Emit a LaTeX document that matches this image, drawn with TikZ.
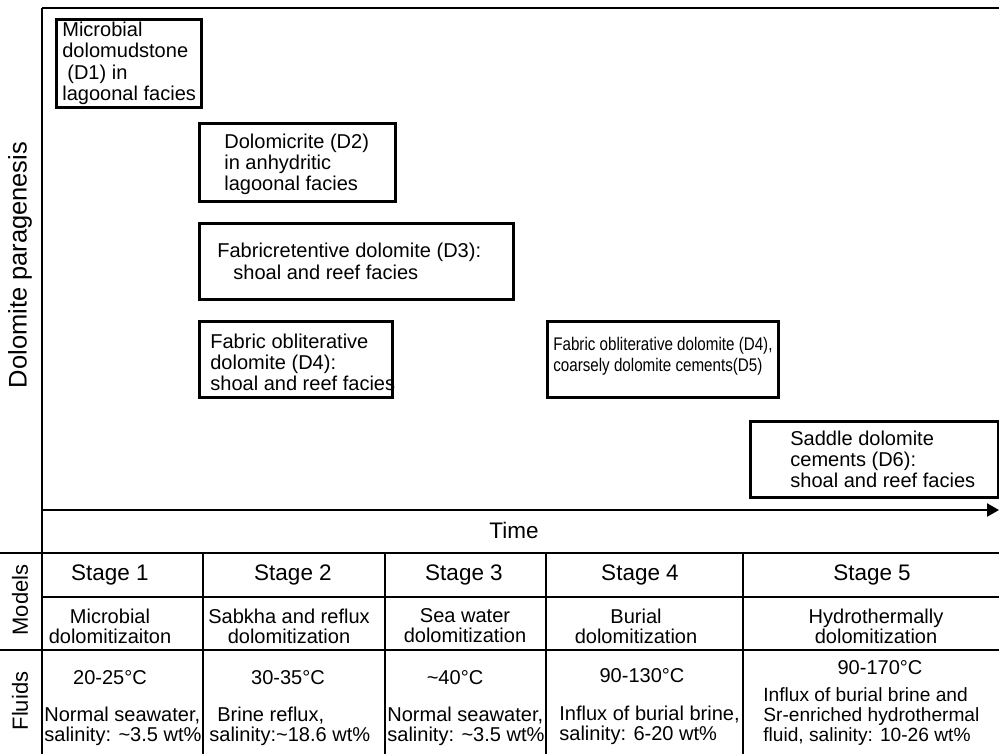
\documentclass[tikz,border=0pt]{standalone}
\usepackage{fontspec}
\setmainfont{Liberation Sans}
\newfontfamily\narrowsans[FakeStretch=0.83]{Liberation Sans}
\usetikzlibrary{positioning,arrows.meta}

\tikzset{
  gridline/.style={line width=1.3pt},
  dbox/.style={draw, line width=1.5pt, anchor=north west, inner sep=0pt},
  dtext/.style={align=left, inner sep=0pt, font=\fontsize{11.4pt}{12pt}\selectfont},
  stagetext/.style={inner sep=0pt, font=\fontsize{12.8pt}{14pt}\selectfont},
  celltext/.style={inner sep=0pt, align=center, font=\fontsize{11.4pt}{11.4pt}\selectfont},
  fluidtext/.style={inner sep=0pt, align=left, anchor=west, font=\fontsize{11.4pt}{11.4pt}\selectfont},
  sidetext/.style={rotate=90, inner sep=0pt, font=\fontsize{12.5pt}{14pt}\selectfont}
}

\begin{document}
\begin{tikzpicture}[x=0.02cm, y=-0.02cm]
\useasboundingbox (0,0) rectangle (999,754);

% frame and time axis
\draw[gridline] (42,8) -- (999,8);
\draw[gridline] (42,8) -- (42,754);
\coordinate (t0) at (42,510);
\coordinate (t1) at (999,510);
\draw[gridline, -{Triangle[length=0.24cm, width=0.26cm]}] (t0) -- (t1);
\node[stagetext] (time) at (514,530) {Time};

% side labels
\node[sidetext, font=\fontsize{14.5pt}{16pt}\selectfont] (para) at (20,265) {Dolomite paragenesis};
\node[sidetext] (models) at (20,600) {Models};
\node[sidetext] (fluids) at (20,701) {Fluids};

% paragenesis boxes
\node[dbox, minimum width=2.90cm, minimum height=1.76cm] (d1) at (55,18) {};
\node[dtext, right=0.14cm of d1.west] (d1txt) {Microbial\\dolomudstone\\\hspace{0.25em}(D1) in\\lagoonal facies};

\node[dbox, minimum width=3.92cm, minimum height=1.56cm] (d2) at (198,122) {};
\node[dtext, right=0.52cm of d2.west, yshift=-1pt] (d2txt) {Dolomicrite (D2)\\in anhydritic\\lagoonal facies};

\node[dbox, minimum width=6.28cm, minimum height=1.52cm] (d3) at (198,222) {};
\node[dtext, right=0.38cm of d3.west] (d3txt) {Fabricretentive dolomite (D3):\\\hspace{0.8em}shoal and reef facies};

\node[dbox, minimum width=3.86cm, minimum height=1.52cm] (d4) at (198,320) {};
\node[dtext, right=0.24cm of d4.west, yshift=-1.5pt] (d4txt) {Fabric obliterative\\dolomite (D4):\\shoal and reef facies};

\node[dbox, minimum width=4.62cm, minimum height=1.52cm] (d45) at (546,320) {};
\node[dtext, right=0.14cm of d45.west, yshift=1.5pt, font=\narrowsans\fontsize{10.4pt}{12pt}\selectfont] (d45txt) {Fabric obliterative dolomite (D4),\\coarsely dolomite cements(D5)};

\node[dbox, minimum width=4.96cm, minimum height=1.52cm] (d6) at (749,420) {};
\node[dtext, right=0.82cm of d6.west] (d6txt) {Saddle dolomite\\cements (D6):\\shoal and reef facies};

% table
\draw[gridline] (0,553) -- (999,553);
\draw[gridline] (42,597) -- (999,597);
\draw[gridline] (0,650) -- (999,650);
\draw[gridline] (203,553) -- (203,754);
\draw[gridline] (385,553) -- (385,754);
\draw[gridline] (546,553) -- (546,754);
\draw[gridline] (743,553) -- (743,754);

% stages
\node[stagetext] (s1) at (110,575) {Stage 1};
\node[stagetext] (s2) at (293,575) {Stage 2};
\node[stagetext] (s3) at (464,575) {Stage 3};
\node[stagetext] (s4) at (640,575) {Stage 4};
\node[stagetext] (s5) at (872,575) {Stage 5};

% models
\node[celltext] (m1) at (110,626) {Microbial\\dolomitizaiton};
\node[celltext] (m2) at (289,626) {Sabkha and reflux\\dolomitization};
\node[celltext] (m3) at (465,626) {Sea water\\dolomitization};
\node[celltext] (m4) at (636,626) {Burial\\dolomitization};
\node[celltext] (m5) at (876,626) {Hydrothermally\\dolomitization};

% fluids
\node[celltext] (c1) at (110,678) {20-25°C};
\node[celltext] (c2) at (288,678) {30-35°C};
\node[celltext] (c3) at (455,678) {\textasciitilde40°C};
\node[celltext] (c4) at (642,676) {90-130°C};
\node[celltext] (c5) at (880,668) {90-170°C};

\node[fluidtext] (f1) at (44,726) {Normal seawater,\\salinity: \textasciitilde3.5 wt\%};
\node[fluidtext] (f2) at (209,726) {\hspace{0.4em}Brine reflux,\\salinity:\textasciitilde18.6 wt\%};
\node[fluidtext] (f3) at (387,726) {Normal seawater,\\salinity: \textasciitilde3.5 wt\%};
\node[fluidtext] (f4) at (559,725) {Influx of burial brine,\\salinity: 6-20 wt\%};
\node[fluidtext, font=\fontsize{10.9pt}{11.4pt}\selectfont] (f5) at (763,717) {Influx of burial brine and\\Sr-enriched hydrothermal\\fluid, salinity: 10-26 wt\%};
\end{tikzpicture}
\end{document}
